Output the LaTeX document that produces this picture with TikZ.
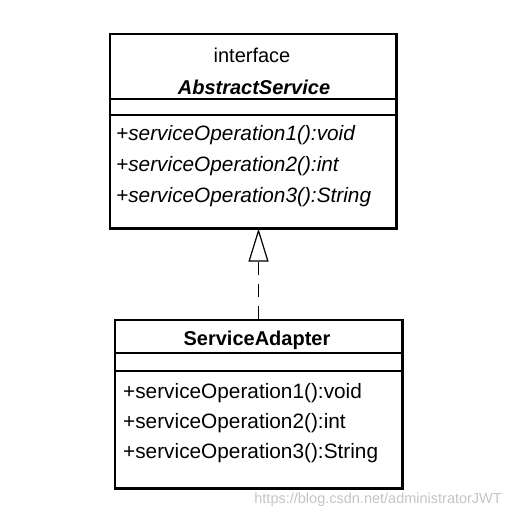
\documentclass[tikz,border=0pt]{standalone}
\usepackage{fontspec}
\setmainfont{Liberation Sans}
\usepackage{xcolor}
\usepackage{tikz}
\usetikzlibrary{arrows.meta}
\tikzset{classbox/.style={draw,line width=1.3pt,inner sep=0pt},
shade edge/.style={line width=3.2pt},
sepline/.style={line width=1.3pt},
realize/.style={-{Triangle[open,length=33pt,width=20pt,line width=1.2pt]},line width=1.3pt,dash pattern=on 13pt off 9pt},
umltext/.style={font=\fontsize{20}{24}\selectfont,inner sep=0pt},
optext/.style={inner sep=0pt,anchor=west,font=\fontsize{20.8}{24}\selectfont}}
\definecolor{markgray}{HTML}{C4C4C4}

\begin{document}
\begin{tikzpicture}[x=1pt,y=-1pt]
\useasboundingbox (0,0) rectangle (513,519);
\node[classbox,minimum width=286pt,minimum height=194pt] (abs) at (253,131) {};
\node[classbox,minimum width=287pt,minimum height=168pt] (adapter) at (258.5,404) {};
\draw[shade edge] (abs.north east)--(abs.south east)--(abs.south west);
\draw[shade edge] (adapter.north east)--(adapter.south east)--(adapter.south west);
\draw[sepline] (110,99)--(396,99) (110,115)--(396,115);
\draw[sepline] (115,353)--(402,353) (115,371)--(402,371);
\node[umltext] (stereo) at (252,55) {interface};
\node[umltext,font=\fontsize{20}{24}\selectfont\bfseries\itshape] (absname) at (254,87) {AbstractService};
\node[umltext,font=\fontsize{20}{24}\selectfont\bfseries] (adaptername) at (257,340) {ServiceAdapter};
\foreach \n/\y/\t in {1/135/void,2/166/int,3/197/String} {
\node[optext,font=\fontsize{20.8}{24}\selectfont\itshape] (absop\n) at (116,\y) {+serviceOperation\n():\t};}
\foreach \n/\y/\t in {1/393/void,2/423/int,3/453/String} {
\node[optext] (adapterop\n) at (123,\y) {+serviceOperation\n():\t};}
\draw[realize] (adapter.north) -- (adapter.north |- abs.south);
\node[anchor=east,inner sep=0pt,text=markgray,font=\fontsize{14.5}{17}\selectfont] (mark) at (502,500) {https://blog.csdn.net/administratorJWT};
\end{tikzpicture}
\end{document}
